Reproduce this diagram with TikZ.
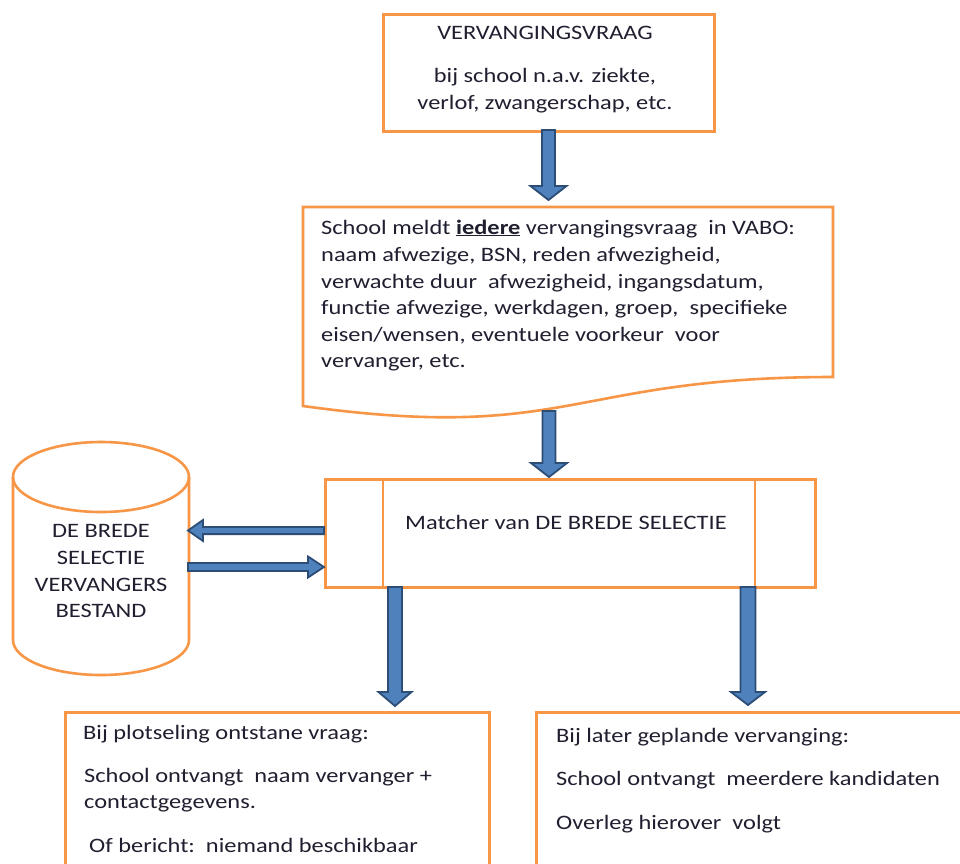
\documentclass[tikz,border=0pt]{standalone}
\usepackage{fontspec}
\setmainfont{Carlito}[FakeStretch=1.19]
\usetikzlibrary{calc}
\definecolor{orng}{HTML}{F79646}
\definecolor{ablue}{HTML}{4F81BD}
\definecolor{adark}{HTML}{2C4D75}
\definecolor{txt}{HTML}{1F1F30}
% block arrows: #1 start coordinate, #2 tip coordinate, #3 shaft half width, #4 head half width, #5 head length
\newcommand\blkdown[5]{\draw[barrow] let \p1=(#1),\p2=(#2) in
  ({\x1-#3pt},\y1) -- ({\x1+#3pt},\y1) -- ({\x1+#3pt},{\y2+#5pt}) -- ({\x1+#4pt},{\y2+#5pt})
  -- (\x1,\y2) -- ({\x1-#4pt},{\y2+#5pt}) -- ({\x1-#3pt},{\y2+#5pt}) -- cycle;}
\newcommand\blkleft[5]{\draw[barrow] let \p1=(#1),\p2=(#2) in
  (\x1,{\y1+#3pt}) -- (\x1,{\y1-#3pt}) -- ({\x2+#5pt},{\y1-#3pt}) -- ({\x2+#5pt},{\y1-#4pt})
  -- (\x2,\y1) -- ({\x2+#5pt},{\y1+#4pt}) -- ({\x2+#5pt},{\y1+#3pt}) -- cycle;}
\newcommand\blkright[5]{\draw[barrow] let \p1=(#1),\p2=(#2) in
  (\x1,{\y1+#3pt}) -- (\x1,{\y1-#3pt}) -- ({\x2-#5pt},{\y1-#3pt}) -- ({\x2-#5pt},{\y1-#4pt})
  -- (\x2,\y1) -- ({\x2-#5pt},{\y1+#4pt}) -- ({\x2-#5pt},{\y1+#3pt}) -- cycle;}
\begin{document}
\begin{tikzpicture}[x=1pt,y=-1pt,
  obox/.style={draw=orng, line width=2.6pt},
  barrow/.style={fill=ablue, draw=adark, line width=1.8pt, line join=miter},
  lbl/.style={inner sep=0pt, font=\fontsize{20.5}{24}\selectfont, text=txt},
]
\useasboundingbox (0,0) rectangle (960,863);
\clip (0,0) rectangle (960,863);
\fill[white] (0,0) rectangle (960,863);

% box 1
\node[obox, anchor=north west, minimum width=331pt, minimum height=117pt, inner sep=0pt] (b1) at (382,13) {};
\node[lbl, anchor=base] (t1a) at (545,39) {VERVANGINGSVRAAG};
\node[lbl, anchor=base] (t1b) at (545,82) {bij school n.a.v. ziekte,};
\node[lbl, anchor=base] (t1c) at (545,109) {verlof, zwangerschap, etc.};

% box 2 (document shape)
\node[anchor=north west, minimum width=530pt, minimum height=200pt, inner sep=0pt] (b2) at (303,207) {};
\draw[obox, line join=miter] (303,207) -- (833,207) -- (833,377)
  .. controls (570,377) and (570,443) .. (303,406) -- cycle;
\node[lbl, anchor=base west] (t2a) at (321,234) {School meldt \underline{\textbf{iedere}} vervangingsvraag\ \ in VABO:};
\node[lbl, anchor=base west] (t2b) at (321,261) {naam afwezige, BSN, reden afwezigheid,};
\node[lbl, anchor=base west] (t2c) at (321,288) {verwachte duur\ \ afwezigheid, ingangsdatum,};
\node[lbl, anchor=base west] (t2d) at (321,314) {functie afwezige, werkdagen, groep,\ \ specifieke};
\node[lbl, anchor=base west] (t2e) at (321,341) {eisen/wensen, eventuele voorkeur\ \ voor};
\node[lbl, anchor=base west] (t2f) at (321,367) {vervanger, etc.};

% matcher
\node[obox, anchor=north west, minimum width=490pt, minimum height=108pt, inner sep=0pt] (m) at (324,478) {};
\draw[obox] (383,478) -- (383,586);
\draw[obox] (755,478) -- (755,586);
\node[lbl, anchor=base west] (tm) at (405,529) {Matcher van DE BREDE SELECTIE};

% cylinder
\node[minimum width=176pt, minimum height=233pt, inner sep=0pt] (cyl) at (101,558.5) {};
\draw[obox, fill=white] (13,477) -- (13,640) arc[start angle=180, end angle=360, x radius=88pt, y radius=35pt]
  -- (189,477) arc[start angle=0, end angle=180, x radius=88pt, y radius=35pt] -- cycle;
\draw[obox] (13,477) arc[start angle=180, end angle=360, x radius=88pt, y radius=35pt];
\node[lbl, anchor=base] (c1) at (101,537) {DE BREDE};
\node[lbl, anchor=base] (c2) at (101,564) {SELECTIE};
\node[lbl, anchor=base] (c3) at (101,591) {VERVANGERS};
\node[lbl, anchor=base] (c4) at (101,617) {BESTAND};

% bottom boxes
\node[obox, anchor=north west, minimum width=424pt, minimum height=200pt, inner sep=0pt] (bl) at (64,711) {};
\node[lbl, anchor=base west] (l1) at (83,739) {Bij plotseling ontstane vraag:};
\node[lbl, anchor=base west] (l2) at (84,782) {School ontvangt\ \ naam vervanger +};
\node[lbl, anchor=base west] (l3) at (84,808) {contactgegevens.};
\node[lbl, anchor=base west] (l4) at (89,852) {Of bericht:\ \ niemand beschikbaar};

\node[obox, anchor=north west, minimum width=500pt, minimum height=200pt, inner sep=0pt] (br) at (535,711) {};
\node[lbl, anchor=base west] (r1) at (556,742) {Bij later geplande vervanging:};
\node[lbl, anchor=base west] (r2) at (556,785) {School ontvangt\ \ meerdere kandidaten};
\node[lbl, anchor=base west] (r3) at (556,829) {Overleg hierover\ \ volgt};

% arrow end points
\coordinate (a1s) at (548.5,130);  \coordinate (a1e) at (548.5,200);
\coordinate (a2s) at (549,411);    \coordinate (a2e) at (549,477);
\coordinate (a3s) at (m.west |- 0,530.5); \coordinate (a3e) at (188,530.5);
\coordinate (a4s) at (188,567);    \coordinate (a4e) at (m.west |- 0,567);
\coordinate (a5s) at (395,587);    \coordinate (a5e) at (395,706);
\coordinate (a6s) at (748,587);    \coordinate (a6e) at (748,705);

\blkdown{a1s}{a1e}{6.5}{18}{14}
\blkdown{a2s}{a2e}{6.5}{18}{14}
\blkleft{a3s}{a3e}{3.6}{10.5}{15}
\blkright{a4s}{a4e}{4}{10.5}{16}
\blkdown{a5s}{a5e}{7}{16.5}{14}
\blkdown{a6s}{a6e}{7.5}{17}{13}
\end{tikzpicture}
\end{document}
